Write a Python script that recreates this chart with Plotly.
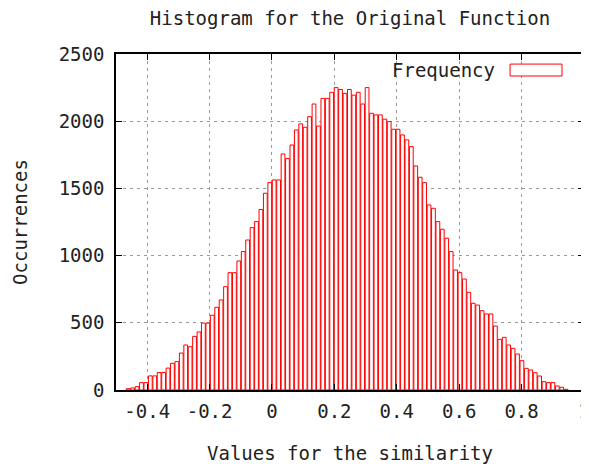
import numpy as np
import plotly.graph_objects as go

# histogram of the similarity values, 100 bins between -0.468 and 0.95
bin_lo = -0.468
bin_hi = 0.950
counts = [
    10, 15, 25, 55, 55, 105, 105, 130, 130, 163,
    198, 211, 275, 335, 322, 399, 432, 498, 498, 556,
    615, 670, 769, 873, 873, 960, 1030, 1116, 1208, 1253,
    1343, 1464, 1543, 1563, 1563, 1756, 1722, 1823, 1935, 1980,
    1955, 2034, 2128, 1964, 2170, 2170, 2215, 2250, 2236, 2207,
    2236, 2194, 2215, 2128, 2250, 2059, 2047, 2047, 2015, 1997,
    1940, 1940, 1898, 1861, 1811, 1667, 1583, 1543, 1377, 1352,
    1253, 1196, 1129, 1030, 893, 873, 826, 727, 645, 632,
    590, 566, 566, 476, 377, 392, 335, 310, 268, 218,
    161, 149, 129, 104, 62, 55, 55, 30, 20, 5,
]

x_ticks = [-0.4, -0.2, 0, 0.2, 0.4, 0.6, 0.8, 1]
x_labels = ["-0.4", "-0.2", "0", "0.2", "0.4", "0.6", "0.8", "1"]
y_ticks = [0, 500, 1000, 1500, 2000, 2500]
y_labels = ["0", "500", "1000", "1500", "2000", "2500"]

edges = np.linspace(bin_lo, bin_hi, len(counts) + 1)
centers = (edges[:-1] + edges[1:]) / 2
bw = edges[1] - edges[0]

FONT = dict(family="DejaVu Sans Mono", size=19, color="#222222")
RED = "rgb(255,0,0)"

# the page body adds an 8px margin, so the figure is 8px smaller each way
W, H = 581, 456

fig = go.Figure()
fig.add_trace(go.Bar(
    x=centers, y=counts, width=bw * 0.85,
    marker=dict(color="white", line=dict(color=RED, width=1)),
    name="Frequency", showlegend=False))

axis_common = dict(
    showline=True, mirror="ticks", linecolor="black", linewidth=1.5,
    ticks="inside", ticklen=6, tickcolor="black", tickwidth=1,
    showgrid=True, gridcolor="#9a9a9a", griddash="3px,4px", gridwidth=1,
    zeroline=False, tickfont=FONT, automargin=False,
    ticklabeloverflow="allow",
)

fig.update_layout(
    width=W, height=H,
    margin=dict(l=108, r=5, t=46, b=74),
    paper_bgcolor="white", plot_bgcolor="white",
    font=FONT,
    title=dict(text="Histogram for the Original Function", x=0.5, xanchor="center",
               xref="paper", y=1 - 10 / H, yanchor="middle", yref="container",
               font=FONT, automargin=False),
    xaxis=dict(range=[-0.5, 1.0001], tickvals=x_ticks, ticktext=x_labels,
               ticklabelstandoff=3,
               title=dict(text="Values for the similarity", font=FONT, standoff=28),
               **axis_common),
    yaxis=dict(range=[0, 2500], tickvals=y_ticks, ticktext=y_labels,
               ticklabelstandoff=6,
               title=dict(text="Occurrences", font=FONT, standoff=26),
               **axis_common),
    showlegend=False,
)

# gnuplot style key: label on the left, sample box on the right
fig.add_annotation(xref="paper", yref="paper", x=0.814, y=0.952,
                   xanchor="right", yanchor="middle", showarrow=False,
                   text="Frequency", font=FONT)
fig.add_shape(type="rect", xref="paper", yref="paper",
              x0=0.842, x1=0.953, y0=0.9345, y1=0.970,
              line=dict(color=RED, width=1), fillcolor="white")

fig.write_html("out.html")
